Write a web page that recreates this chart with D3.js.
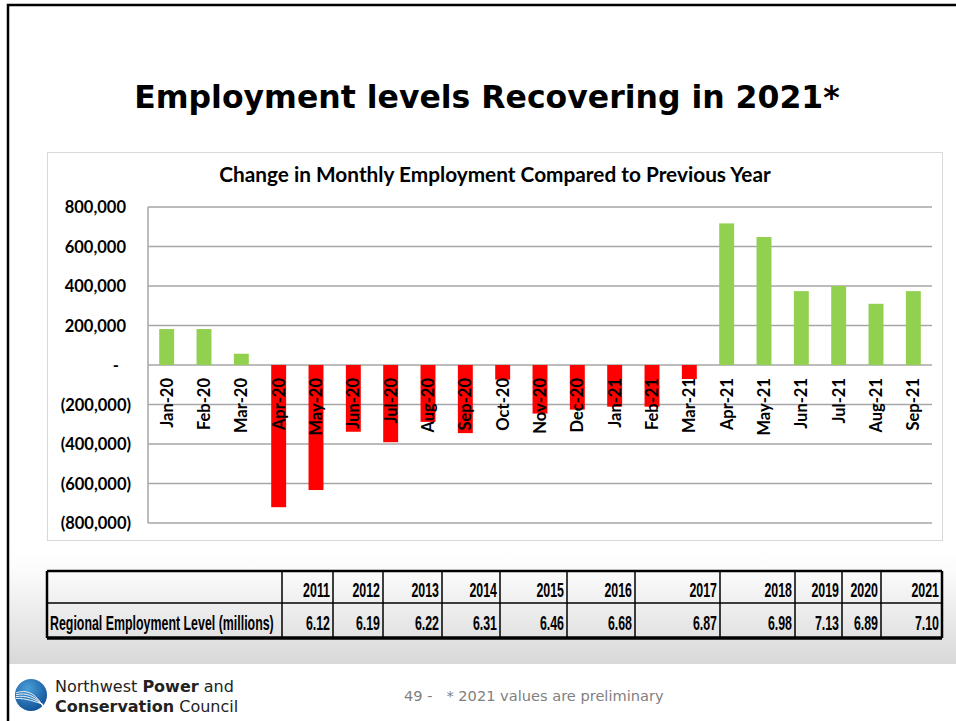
<!DOCTYPE html>
<html lang="en">
<head>
  <meta charset="UTF-8">
  <title>Employment levels Recovering in 2021*</title>
  <style>
    body { margin: 0; background: #fff; }
    svg { display: block; }
    .grid line { stroke: #a6a6a6; stroke-width: 1.5px; }
    .ytick { font-family: Lato, "Open Sans", sans-serif; font-weight: bold; font-size: 16.5px; fill: #000; }
    .xtick { font-family: Lato, "Open Sans", sans-serif; font-weight: bold; font-size: 16.5px; fill: #000; }
    .tbl { font-family: "Liberation Sans", Arial, sans-serif; font-weight: bold; font-size: 20px; fill: #000; }
  </style>
</head>
<body>
  <script src="https://cdn.jsdelivr.net/npm/d3@7"></script>
  <script>
    // monthly change in employment vs same month previous year
    const months = ['Jan-20','Feb-20','Mar-20','Apr-20','May-20','Jun-20','Jul-20','Aug-20','Sep-20','Oct-20','Nov-20','Dec-20',
                    'Jan-21','Feb-21','Mar-21','Apr-21','May-21','Jun-21','Jul-21','Aug-21','Sep-21'];
    const change = [182000, 182000, 57000, -720000, -633000, -338000, -391000, -288000, -345000, -74000, -246000, -226000,
                    -211000, -211000, -71000, 717000, 648000, 374000, 400000, 310000, 374000];
    const yTicks = [800000, 600000, 400000, 200000, 0, -200000, -400000, -600000, -800000];

    // table below the chart
    const years = ['2011','2012','2013','2014','2015','2016','2017','2018','2019','2020','2021'];
    const levels = ['6.12','6.19','6.22','6.31','6.46','6.68','6.87','6.98','7.13','6.89','7.10'];
    const rowLabel = 'Regional Employment Level (millions)';

    const W = 956, H = 721;
    const svg = d3.select('body').append('svg').attr('width', W).attr('height', H);

    const defs = svg.append('defs');
    const grad = defs.append('linearGradient').attr('id', 'band').attr('x1', 0).attr('y1', 0).attr('x2', 0).attr('y2', 1);
    grad.append('stop').attr('offset', '0%').attr('stop-color', '#ffffff');
    grad.append('stop').attr('offset', '20%').attr('stop-color', '#fbfbfb');
    grad.append('stop').attr('offset', '100%').attr('stop-color', '#d8d8d8');

    // slide background band + border
    svg.append('rect').attr('x', 9).attr('y', 548).attr('width', W - 9).attr('height', 116).attr('fill', 'url(#band)');
    svg.append('path').attr('d', 'M8,' + H + 'V5H' + W).attr('fill', 'none').attr('stroke', '#000').attr('stroke-width', 2.5);

    svg.append('text').attr('x', 487).attr('y', 108).attr('text-anchor', 'middle')
      .style('font-family', '"DejaVu Sans", sans-serif').style('font-weight', 'bold').style('font-size', '31.5px')
      .text('Employment levels Recovering in 2021*');

    // chart frame
    svg.append('rect').attr('x', 47.5).attr('y', 152.5).attr('width', 895).attr('height', 388)
      .attr('fill', '#fff').attr('stroke', '#d9d9d9').attr('stroke-width', 1);
    svg.append('text').attr('x', 495).attr('y', 182).attr('text-anchor', 'middle')
      .style('font-family', 'Lato, sans-serif').style('font-weight', 'bold').style('font-size', '20.8px')
      .text('Change in Monthly Employment Compared to Previous Year');

    const pLeft = 148, pRight = 932, pTop = 207, pBottom = 523;
    const x = d3.scaleBand().domain(months).range([pLeft, pRight]).paddingInner(0.6).paddingOuter(0.3);
    const y = d3.scaleLinear().domain([-800000, 800000]).range([pBottom, pTop]);

    svg.append('g').attr('class', 'grid')
      .selectAll('line').data(yTicks).enter().append('line')
      .attr('x1', pLeft).attr('x2', pRight)
      .attr('y1', function(d){ return y(d); }).attr('y2', function(d){ return y(d); });
    svg.append('line').attr('x1', pLeft).attr('x2', pLeft).attr('y1', pTop).attr('y2', pBottom)
      .attr('stroke', '#a6a6a6').attr('stroke-width', 1.5);

    const fmt = d3.format(',');
    svg.selectAll('text.ytick').data(yTicks).enter().append('text')
      .attr('class', 'ytick')
      .attr('x', function(d){ return d < 0 ? 131 : (d === 0 ? 119 : 126); })
      .attr('y', function(d){ return y(d) + 6; })
      .attr('text-anchor', 'end')
      .text(function(d){ return d === 0 ? '-' : (d < 0 ? '(' + fmt(-d) + ')' : fmt(d)); });

    svg.selectAll('rect.bar').data(change).enter().append('rect')
      .attr('class', 'bar')
      .attr('x', function(d, i){ return x(months[i]); })
      .attr('width', x.bandwidth())
      .attr('y', function(d){ return y(Math.max(0, d)); })
      .attr('height', function(d){ return Math.abs(y(d) - y(0)); })
      .attr('fill', function(d){ return d < 0 ? '#ff0000' : '#92d050'; });

    svg.selectAll('text.xtick').data(months).enter().append('text')
      .attr('class', 'xtick')
      .attr('text-anchor', 'end')
      .attr('transform', function(d){ return 'translate(' + (x(d) + x.bandwidth() / 2 + 6) + ',378) rotate(-90)'; })
      .text(function(d){ return d; });

    // table (narrow bold text, squeezed horizontally)
    const cols = [47, 282, 333, 383, 442, 500, 567, 635, 720, 795, 842, 881, 942];
    const t0 = 571, t1 = 603, t2 = 638, sx = 0.62;
    const tbl = svg.append('g');
    tbl.append('line').attr('x1', cols[0]).attr('x2', cols[12]).attr('y1', t0).attr('y2', t0).attr('stroke', '#000').attr('stroke-width', 2.5);
    tbl.append('line').attr('x1', cols[0]).attr('x2', cols[12]).attr('y1', t1).attr('y2', t1).attr('stroke', '#000').attr('stroke-width', 1.5);
    tbl.append('line').attr('x1', cols[0]).attr('x2', cols[12]).attr('y1', t2).attr('y2', t2).attr('stroke', '#000').attr('stroke-width', 3.5);
    tbl.selectAll('line.v').data(cols).enter().append('line')
      .attr('class', 'v')
      .attr('x1', function(d){ return d; }).attr('x2', function(d){ return d; })
      .attr('y1', t0).attr('y2', t2)
      .attr('stroke', '#000').attr('stroke-width', function(d, i){ return (i === 0 || i === 12) ? 2.5 : 1.5; });
    tbl.selectAll('text.yr').data(years).enter().append('text')
      .attr('class', 'tbl')
      .attr('transform', function(d, i){ return 'translate(' + (cols[i + 2] - 3) + ',597) scale(' + sx + ',1)'; })
      .attr('text-anchor', 'end').text(function(d){ return d; });
    tbl.selectAll('text.lv').data(levels).enter().append('text')
      .attr('class', 'tbl')
      .attr('transform', function(d, i){ return 'translate(' + (cols[i + 2] - 3) + ',630) scale(' + sx + ',1)'; })
      .attr('text-anchor', 'end').text(function(d){ return d; });
    tbl.append('text').attr('class', 'tbl')
      .attr('transform', 'translate(50,630) scale(' + sx + ',1)').text(rowLabel);

    // footer logo
    const logo = svg.append('g').attr('transform', 'translate(31,695)');
    const lg = defs.append('radialGradient').attr('id', 'lg').attr('cx', '40%').attr('cy', '30%').attr('r', '75%');
    lg.append('stop').attr('offset', '0%').attr('stop-color', '#4a9fd8');
    lg.append('stop').attr('offset', '100%').attr('stop-color', '#0f4f96');
    logo.append('circle').attr('r', 16).attr('fill', 'url(#lg)');
    [0, 3, 6, 9].forEach(function(o){
      logo.append('path')
        .attr('d', 'M-15,' + (-2 + o * 0.6) + ' C-5,' + (-6 + o) + ' 5,' + (-2 + o) + ' 12,' + (12 - o * 0.3))
        .attr('fill', 'none').attr('stroke', '#fff').attr('stroke-width', 0.9);
    });
    const ft = svg.append('text').attr('x', 55).attr('y', 692)
      .style('font-family', '"DejaVu Sans", sans-serif').style('font-size', '16px').style('fill', '#222');
    ft.append('tspan').text('Northwest ');
    ft.append('tspan').style('font-weight', 'bold').text('Power');
    ft.append('tspan').text(' and');
    const ft2 = svg.append('text').attr('x', 55).attr('y', 712)
      .style('font-family', '"DejaVu Sans", sans-serif').style('font-size', '16px').style('fill', '#222');
    ft2.append('tspan').style('font-weight', 'bold').text('Conservation');
    ft2.append('tspan').text(' Council');

    svg.append('text').attr('x', 404).attr('y', 701)
      .style('font-family', '"DejaVu Sans", sans-serif').style('font-size', '14.6px').style('fill', '#7f7f7f')
      .attr('xml:space', 'preserve')
      .text('49 -   * 2021 values are preliminary');
  </script>
</body>
</html>
